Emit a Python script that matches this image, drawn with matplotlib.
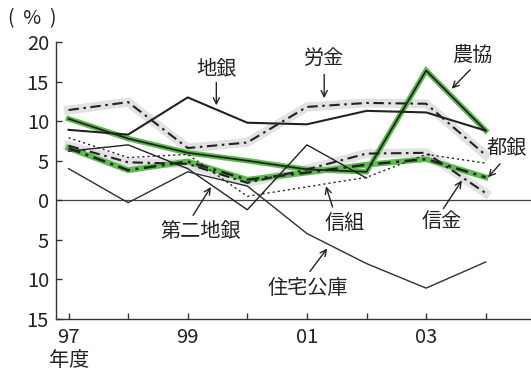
import numpy as np
import matplotlib
matplotlib.use("Agg")
import matplotlib.pyplot as plt
from matplotlib.ticker import FuncFormatter

plt.rcParams['font.family'] = ['Noto Sans CJK JP', 'DejaVu Sans']

# 年度 (97 = 1997 ... 104 = 2004)
years = [97, 98, 99, 100, 101, 102, 103, 104]
tick_years = [97, 99, 101, 103]
tick_labels = ['97', '99', '01', '03']

chigin = [8.9, 8.3, 13.0, 9.8, 9.6, 11.3, 11.1, 8.8]        # 地銀
rokin = [11.4, 12.4, 6.6, 7.3, 11.8, 12.3, 12.2, 5.7]       # 労金
nokyo = [10.3, 7.8, 6.0, 5.0, 3.9, 3.6, 16.4, 8.8]          # 農協
togin = [6.6, 3.8, 4.9, 2.6, 3.5, 4.5, 5.2, 2.9]            # 都銀
shinkin = [6.9, 4.8, 4.6, 2.2, 3.9, 5.9, 6.0, 0.9]          # 信金
shinkumi = [7.9, 5.4, 5.8, 0.5, 1.7, 2.9, 5.8, 4.7]         # 信組
daini = [6.2, 7.0, 4.0, -1.2, 7.0, 2.8, np.nan, np.nan]     # 第二地銀
jutaku = [4.0, -0.3, 3.6, 1.8, -4.2, -8.0, -11.1, -7.8]     # 住宅公庫

GREEN = '#5dbb4f'
HALO = '#e2e2e2'
INK = '#222222'
dashdot = (0, (5, 2.2, 1.2, 2.2))

fig = plt.figure(figsize=(5.31, 3.73), dpi=100)
ax = fig.add_axes([0.1055, 0.1448, 0.8945, 0.7426])

ax.axhline(0, color='#444444', lw=0.9, zorder=1)

# gray-backed dash-dot lines
for s in (rokin, shinkin):
    ax.plot(years, s, color=HALO, lw=6.5, solid_joinstyle='miter', zorder=2)
    ax.plot(years, s, color=INK, lw=1.5, ls=dashdot, zorder=5)

# green-backed lines
ax.plot(years, togin, color=GREEN, lw=4.2, solid_joinstyle='miter', zorder=3)
ax.plot(years, togin, color=INK, lw=1.8, ls=dashdot, zorder=6)
ax.plot(years, nokyo, color=GREEN, lw=4.0, solid_joinstyle='miter', zorder=3)
ax.plot(years, nokyo, color=INK, lw=1.3, zorder=6)

ax.plot(years, chigin, color=INK, lw=1.5, zorder=6)
ax.plot(years, shinkumi, color=INK, lw=1.0, ls=(0, (1.5, 2.2)), zorder=4)
ax.plot(years, daini, color=INK, lw=1.0, zorder=4)
ax.plot(years, jutaku, color='#2b3326', lw=1.0, zorder=4)

ax.set_xlim(96.79, 104.76)
ax.set_ylim(-15, 20)
ax.set_xticks(years)
ax.set_xticklabels([tick_labels[tick_years.index(y)] if y in tick_years else '' for y in years])
ax.set_yticks(range(-15, 21, 5))
ax.yaxis.set_major_formatter(FuncFormatter(lambda v, p: f'{abs(int(v))}'))

for side in ('top', 'right'):
    ax.spines[side].set_visible(False)
for side in ('left', 'bottom'):
    ax.spines[side].set_color('#333333')
    ax.spines[side].set_linewidth(1.0)
ax.tick_params(direction='in', length=4.5, width=1.0, color='#333333',
               labelsize=14.5, labelcolor=INK)
ax.tick_params(axis='x', pad=6)
ax.tick_params(axis='y', pad=5)

# series labels with arrows: (text, text x, text y, arrow start, arrow tip)
labels = [
    ('地銀', 99.48, 16.6, (99.48, 14.9), (99.48, 12.0)),
    ('労金', 101.29, 17.9, (101.29, 15.9), (101.29, 12.9)),
    ('農協', 103.77, 18.3, (103.74, 16.5), (103.43, 14.1)),
    ('都銀', 104.35, 6.5, (104.24, 4.6), (104.04, 2.9)),
    ('信金', 103.26, -2.7, (103.29, -1.05), (103.6, 2.5)),
    ('信組', 101.64, -2.9, (101.43, -0.85), (101.32, 1.77)),
    ('第二地銀', 99.22, -4.0, (99.09, -1.9), (99.39, 1.68)),
    ('住宅公庫', 101.02, -11.1, (101.05, -9.0), (101.34, -6.1)),
]
for name, tx, ty, start, tip in labels:
    ax.text(tx, ty, name, fontsize=14.5, color=INK, ha='center', va='center',
            zorder=8)
    ax.annotate('', xy=tip, xytext=start,
                arrowprops=dict(arrowstyle='->', color=INK, lw=1.0,
                                shrinkA=0, shrinkB=0, mutation_scale=11),
                zorder=8)

fig.text(32 / 531, 1 - 19 / 373, '(  %  )', fontsize=14, color=INK,
         ha='center', va='center')
fig.text(69 / 531, 1 - 361 / 373, '年度', fontsize=14.5, color=INK,
         ha='center', va='center')

fig.savefig('out.png', dpi=100, facecolor='white')
